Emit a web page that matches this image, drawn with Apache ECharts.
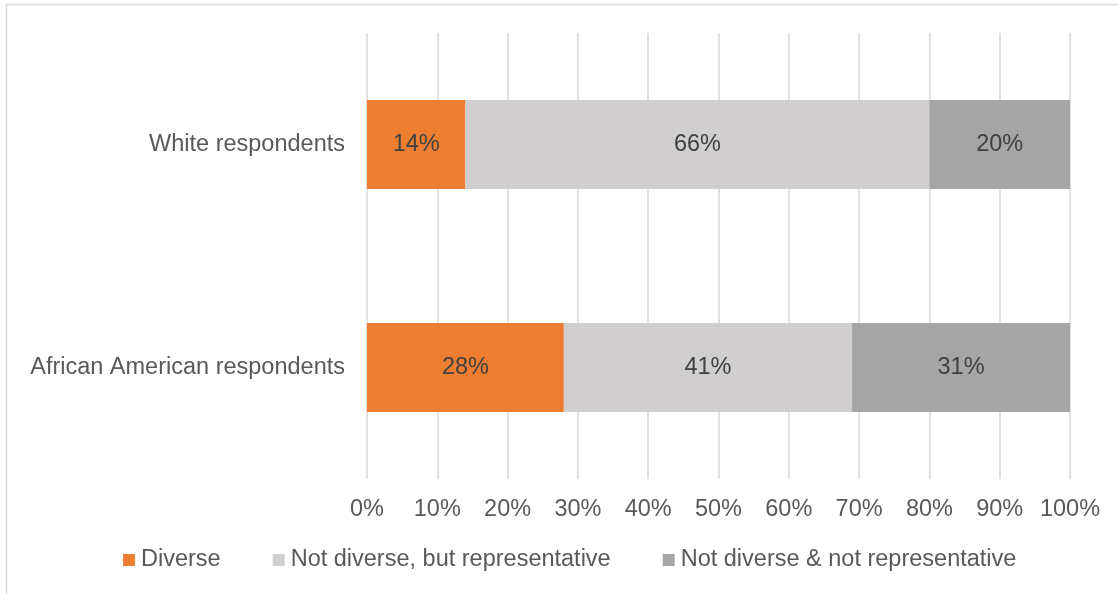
<!DOCTYPE html>
<html><head><meta charset="utf-8">
<script src="https://cdn.jsdelivr.net/npm/echarts@6/dist/echarts.min.js"></script>
<style>html,body{margin:0;padding:0;background:#fff}#c{width:1118px;height:594px}</style>
</head><body><div id="c"></div>
<script>
const categories = ['White respondents', 'African American respondents'];
const seriesNames = ['Diverse', 'Not diverse, but representative', 'Not diverse & not representative'];
const diverse = [14, 28];
const notDiverseRep = [66, 41];
const notDiverseNotRep = [20, 31];
const tickLabels = ['0%','10%','20%','30%','40%','50%','60%','70%','80%','90%','100%'];
const colors = ['#ED7D31', '#D0CECE', '#A5A5A5'];
const font = 'Liberation Sans, Arial, sans-serif';
const txt = '#595959';
const fs = 23.5;

const chart = echarts.init(document.getElementById('c'), null, {renderer: 'canvas'});
const mk = (name, data, color) => ({
  name, type: 'bar', stack: 'total', data, barWidth: 89,
  itemStyle: {color},
  label: {show: true, position: 'inside', formatter: p => p.value + '%', color: '#404040', fontSize: fs, fontFamily: font, padding: [4, 0, 0, 0]}
});
chart.setOption({
  animation: false,
  graphic: [{type: 'rect', shape: {x: 6.5, y: 4.5, width: 1200, height: 700}, style: {fill: 'none', stroke: '#D9D9D9', lineWidth: 1.5}, z: -1}],
  grid: {left: 367, right: 48, top: 33, bottom: 115},
  legend: {
    left: 123, top: 548, padding: 0, itemWidth: 12, itemHeight: 12, itemGap: 52, icon: 'rect',
    textStyle: {color: txt, fontSize: fs, fontFamily: font, padding: [0, 0, 0, 1]},
    data: seriesNames
  },
  xAxis: {
    type: 'value', min: 0, max: 100, interval: 10,
    axisLine: {show: false}, axisTick: {show: false},
    splitLine: {lineStyle: {color: '#D9D9D9', width: 1.5}},
    axisLabel: {color: txt, fontSize: fs, fontFamily: font, margin: 19, formatter: v => tickLabels[v / 10]}
  },
  yAxis: {
    type: 'category', data: categories, inverse: true,
    axisLine: {show: false}, axisTick: {show: false},
    axisLabel: {color: txt, fontSize: fs, fontFamily: font, margin: 22, padding: [4, 0, 0, 0]}
  },
  series: [
    mk(seriesNames[0], diverse, colors[0]),
    mk(seriesNames[1], notDiverseRep, colors[1]),
    mk(seriesNames[2], notDiverseNotRep, colors[2])
  ]
});
</script></body></html>
